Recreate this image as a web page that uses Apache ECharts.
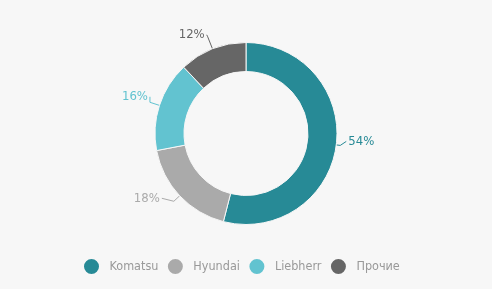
<!DOCTYPE html>
<html><head><meta charset="utf-8">
<script src="https://cdn.jsdelivr.net/npm/echarts@6/dist/echarts.min.js"></script>
<style>html,body{margin:0;padding:0;background:#f7f7f7}#c{width:492px;height:289px}</style>
</head><body><div id="c"></div>
<script>
const categories = ['Komatsu', 'Hyundai', 'Liebherr', 'Прочие'];
const shares = [54, 18, 16, 12];
const colors = ['#278a96', '#aaaaaa', '#62c3d0', '#666666'];
// per-slice label styling (line lengths / vertical nudge)
const lineLen = [4, 8, 10, 13];
const lineLen2 = [6, 12, 0, 1];
const labelNudgeY = [-4, -3, -5.5, -2];
const font = '"DejaVu Sans Condensed", "Roboto", sans-serif';
const chart = echarts.init(document.getElementById('c'));
chart.setOption({
  backgroundColor: '#f7f7f7',
  color: colors,
  legend: {
    bottom: 8,
    left: 77,
    icon: 'circle',
    itemWidth: 26,
    itemHeight: 17,
    itemGap: 7.5,
    textStyle: { color: '#999', fontSize: 12.5, fontFamily: font },
    data: categories
  },
  series: [{
    type: 'pie',
    center: [246, 133.5],
    radius: [62, 91],
    startAngle: 90,
    avoidLabelOverlap: false,
    itemStyle: { borderColor: '#f7f7f7', borderWidth: 1 },
    label: {
      formatter: p => p.value + '%',
      fontSize: 13,
      fontFamily: font,
      color: 'inherit',
      distanceToLabelLine: 2
    },
    labelLine: { lineStyle: { width: 1 } },
    labelLayout: function (params) {
      const dy = labelNudgeY[params.dataIndex];
      const pts = params.labelLinePoints;
      if (!pts) return { dy: dy };
      const np = pts.map(p => [p[0], p[1]]);
      const last = np[np.length - 1];
      np[np.length - 1] = [last[0], last[1] + dy];
      return { dy: dy, labelLinePoints: np };
    },
    emphasis: { disabled: true },
    data: categories.map((c, i) => ({
      name: c,
      value: shares[i],
      label: { color: colors[i] },
      labelLine: { length: lineLen[i], length2: lineLen2[i] }
    }))
  }]
});
</script></body></html>
